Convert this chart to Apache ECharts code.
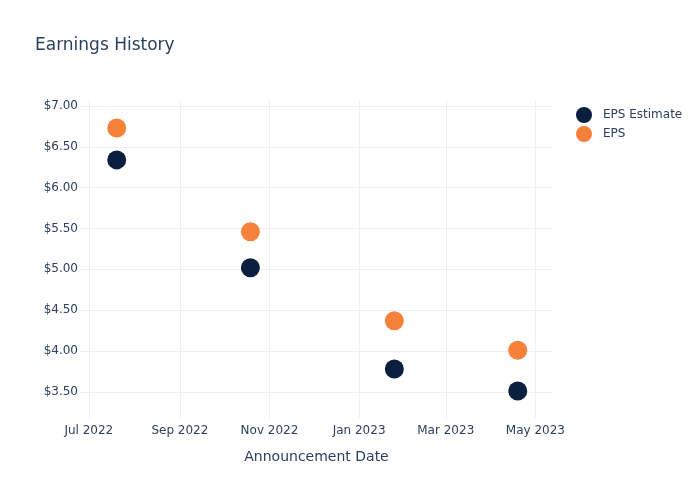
<!DOCTYPE html>
<html><head><meta charset="utf-8">
<script src="https://cdn.jsdelivr.net/npm/echarts@6/dist/echarts.min.js"></script>
<style>html,body{margin:0;padding:0;background:#fff}#c{width:700px;height:500px}</style>
</head><body><div id="c"></div>
<script>
const dates = ['2022-07-20', '2022-10-19', '2023-01-25', '2023-04-19'];
const epsEstimate = [6.34, 5.02, 3.78, 3.51];
const eps = [6.73, 5.46, 4.37, 4.01];
const xTicks = ['2022-07-01', '2022-09-01', '2022-11-01', '2023-01-01', '2023-03-01', '2023-05-01'];
const yTicks = [3.5, 4.0, 4.5, 5.0, 5.5, 6.0, 6.5, 7.0];
const MONTHS = ['Jan','Feb','Mar','Apr','May','Jun','Jul','Aug','Sep','Oct','Nov','Dec'];
const ts = s => { const p = s.split('-').map(Number); return Date.UTC(p[0], p[1]-1, p[2]); };
const FONT = 'DejaVu Sans';
const TXT = '#2a3f5f';
const chart = echarts.init(document.getElementById('c'), null, {renderer: 'canvas'});
chart.setOption({
  animation: false,
  textStyle: {fontFamily: FONT},
  title: {text: 'Earnings History', left: 30, top: 32,
    textStyle: {fontFamily: FONT, fontSize: 17, fontWeight: 'normal', color: TXT}},
  legend: {
    orient: 'vertical', left: 571, top: 102, itemGap: 3, itemWidth: 18, itemHeight: 16,
    icon: 'circle', textStyle: {fontFamily: FONT, fontSize: 12, color: TXT, padding: [0, 0, 0, 5]},
    data: ['EPS Estimate', 'EPS']
  },
  grid: {left: 80, right: 147, top: 100, bottom: 82, containLabel: false},
  xAxis: {
    type: 'value',
    min: ts('2022-06-25'), max: ts('2023-05-13'),
    name: 'Announcement Date', nameLocation: 'middle', nameGap: 32,
    nameTextStyle: {fontFamily: FONT, fontSize: 14, color: TXT},
    axisLine: {show: false},
    axisTick: {show: false, customValues: xTicks.map(ts)},
    axisLabel: {customValues: xTicks.map(ts), fontFamily: FONT, fontSize: 12, color: TXT, margin: 7,
      showMinLabel: true, showMaxLabel: true,
      formatter: v => { const d = new Date(v); return MONTHS[d.getUTCMonth()] + ' ' + d.getUTCFullYear(); }},
    splitLine: {show: true, lineStyle: {color: '#ebf0f8', width: 1}}
  },
  yAxis: {
    type: 'value', min: 3.18, max: 7.073,
    axisLine: {show: false},
    axisTick: {show: false, customValues: yTicks},
    axisLabel: {customValues: yTicks, fontFamily: FONT, fontSize: 12, color: TXT, margin: 2,
      formatter: v => '$' + v.toFixed(2)},
    splitLine: {show: true, lineStyle: {color: '#ebf0f8', width: 1}}
  },
  series: [
    {name: 'EPS Estimate', type: 'scatter', symbolSize: 19,
      itemStyle: {color: '#0b1f3f', opacity: 1},
      data: dates.map((d, i) => [ts(d), epsEstimate[i]])},
    {name: 'EPS', type: 'scatter', symbolSize: 19,
      itemStyle: {color: '#f5813a', opacity: 1},
      data: dates.map((d, i) => [ts(d), eps[i]])}
  ]
});
</script></body></html>
